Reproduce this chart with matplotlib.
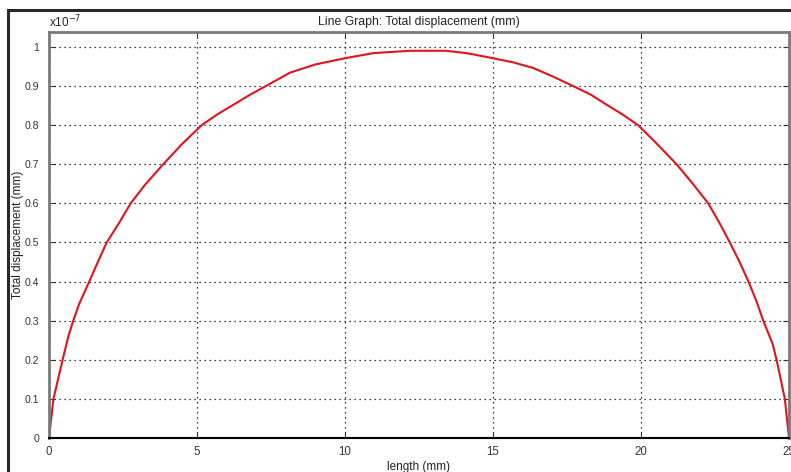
import matplotlib
matplotlib.use("Agg")
import matplotlib.pyplot as plt
from matplotlib.patches import Rectangle
from matplotlib.ticker import FuncFormatter

plt.rcParams['font.family'] = ['Liberation Sans', 'DejaVu Sans']

length_mm = [0, 0.15, 0.46, 0.65, 0.82, 1.02, 1.36, 1.65, 1.95, 2.36, 2.76, 3.24, 3.86,
             4.5, 5.16, 5.7, 6.23, 6.8, 7.33, 8.14, 9.0, 10.0, 10.96, 12.2, 13.4, 14.11,
             15.0, 15.7, 16.36, 17.0, 17.7, 18.3, 18.84, 19.4, 19.9, 20.5, 21.2, 21.75,
             22.27, 22.65, 23.0, 23.33, 23.63, 23.9, 24.13, 24.45, 24.58, 24.86, 25.0]
disp_e7 = [0, 0.1, 0.2, 0.259, 0.3, 0.343, 0.4, 0.45, 0.5, 0.549, 0.6, 0.647, 0.7,
           0.752, 0.8, 0.828, 0.852, 0.878, 0.9, 0.934, 0.955, 0.971, 0.984, 0.99, 0.99, 0.984,
           0.971, 0.96, 0.946, 0.925, 0.9, 0.878, 0.852, 0.826, 0.8, 0.755, 0.7, 0.65,
           0.6, 0.55, 0.5, 0.45, 0.4, 0.35, 0.3, 0.24, 0.2, 0.1, 0]
displacement = [v * 1e-7 for v in disp_e7]

x_ticks = [0, 5, 10, 15, 20, 25]
y_ticks = [0, 0.1, 0.2, 0.3, 0.4, 0.5, 0.6, 0.7, 0.8, 0.9, 1.0]

W, H = 791, 472
fig = plt.figure(figsize=(W / 100, H / 100), dpi=100)

# outer frame
fig.patches.append(Rectangle((8 / W, -0.2), 1.2, 1.2 - 10 / H,
                             transform=fig.transFigure, fill=False,
                             edgecolor='#2a2a2a', linewidth=2.2))

ax = fig.add_axes([49 / W, 34 / H, 740 / W, 406 / H])
ax.plot(length_mm, displacement, color='#e3121b', linewidth=1.5)

ax.set_xlim(0, 25)
ax.set_ylim(0, 1.038e-7)
ax.set_xticks(x_ticks)
ax.set_yticks([v * 1e-7 for v in y_ticks])
ax.yaxis.set_major_formatter(FuncFormatter(lambda v, p: ('%g' % round(v * 1e7, 3))))
ax.xaxis.set_major_formatter(FuncFormatter(lambda v, p: '%g' % v))

ax.grid(True, linestyle=(0, (1, 3)), color='black', linewidth=0.9)
ax.tick_params(direction='in', length=4, top=True, right=True, colors='#333333')
ax.tick_params(axis='x', labelsize=8.3, pad=6)
ax.tick_params(axis='y', labelsize=7.6, pad=7)
for s in ['left', 'top', 'right']:
    ax.spines[s].set_color('#7a7a7a')
    ax.spines[s].set_linewidth(2)
ax.spines['bottom'].set_color('black')
ax.spines['bottom'].set_linewidth(1.5)

ax.set_title('Line Graph: Total displacement (mm)', fontsize=8.8, color='#222222', pad=5)
ax.set_xlabel('length (mm)', fontsize=8.5, color='#222222')
ax.xaxis.set_label_coords(0.5, -0.057)
ax.set_ylabel('Total displacement (mm)', fontsize=8.5, color='#222222')
ax.yaxis.set_label_coords(-0.0338, 0.5)
ax.text(0.0, 1.005, r'x10$^{-7}$', transform=ax.transAxes, fontsize=8.5,
        color='#222222', ha='left', va='bottom')

fig.savefig('out.png', dpi=100)
